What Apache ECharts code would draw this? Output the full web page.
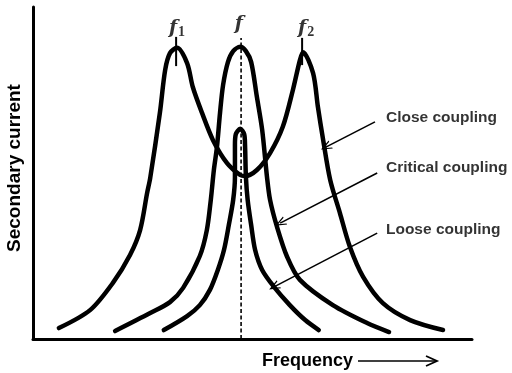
<!DOCTYPE html>
<html>
<head>
<meta charset="utf-8">
<script src="https://cdn.jsdelivr.net/npm/echarts@6/dist/echarts.min.js"></script>
<style>
  html, body { margin: 0; padding: 0; background: #fff; }
  #chart { width: 512px; height: 373px; }
</style>
</head>
<body>
<div id="chart"></div>
<script>
// Resonance curves of two coupled tuned circuits: secondary current vs frequency
// (frequency and current in arbitrary units, 0-100 on each axis)

const closeCoupling = [
  [5.9, 3.3], [13.0, 8.7], [18.2, 16.9], [22.1, 25.3], [24.4, 32.8], [26.0, 44.0],
  [26.7, 48.5], [28.9, 68.1], [30.1, 81.0], [31.2, 86.1], [32.8, 87.7], [35.1, 83.1],
  [36.4, 75.9], [38.5, 68.1], [41.0, 59.9], [44.2, 53.0], [47.2, 49.4], [48.3, 49.1],
  [51.0, 50.9], [54.0, 56.0], [56.9, 63.9], [59.2, 75.0], [60.8, 84.0], [61.5, 86.4],
  [63.8, 80.1], [64.9, 69.9], [66.1, 59.9], [67.7, 47.9], [69.9, 38.0], [72.2, 27.7],
  [75.2, 18.7], [79.7, 10.8], [85.9, 5.7], [93.4, 2.7]
];

const criticalCoupling = [
  [18.7, 2.4], [26.7, 7.8], [31.2, 11.1], [34.2, 15.4], [38.0, 25.0], [39.6, 32.8],
  [40.5, 41.9], [41.2, 50.9], [41.9, 57.8], [42.6, 68.1], [43.3, 76.5], [44.4, 83.4],
  [45.6, 86.7], [47.2, 88.0], [48.5, 86.7], [49.7, 83.4], [51.0, 72.9], [52.2, 63.0],
  [53.3, 48.8], [54.0, 41.9], [55.6, 33.7], [57.9, 24.7], [60.8, 17.8], [68.3, 10.2],
  [76.1, 4.8], [81.1, 2.1]
];

const looseCoupling = [
  [29.8, 2.7], [35.1, 6.9], [38.0, 10.2], [40.3, 14.8], [42.1, 20.8], [43.5, 26.8],
  [44.6, 34.3], [45.6, 41.9], [46.0, 48.8], [46.0, 58.4], [46.2, 61.7], [47.2, 63.3],
  [48.1, 61.7], [48.3, 58.4], [48.5, 48.8], [48.9, 41.9], [49.7, 34.3], [50.6, 26.8],
  [52.2, 20.8], [54.9, 15.7], [58.5, 10.2], [62.0, 5.7], [65.1, 2.7]
];

// resonant frequency f and the two peaks f1, f2 of the close-coupled curve
const centerFreq = 47.4;
const centerLine = [[centerFreq, 0], [centerFreq, 90.7]];
const f1Tick = [[32.6, 91.0], [32.6, 82.2]];
const f2Tick = [[61.3, 90.7], [61.3, 82.5]];
const peakLabels = [
  { name: '1', value: [32.8, 93.6] },
  { name: '',  value: [46.9, 95.0] },
  { name: '2', value: [62.2, 93.6] }
];

// curve captions and the arrows pointing from them to the curves
const captionNames = ['Close coupling', 'Critical coupling', 'Loose coupling'];
const captionPos = [[80.4, 66.6], [80.4, 51.5], [80.4, 32.8]];
const arrowFrom = [[77.9, 65.4], [78.4, 50.0], [78.4, 31.9]];
const arrowTo = [[66.7, 57.8], [56.3, 34.9], [54.9, 15.7]];

const ink = '#000';
const openArrow = 'path://M5,0 L10,11 L8.6,11 L5,3.2 L1.4,11 L0,11 Z';

const chart = echarts.init(document.getElementById('chart'), null, { renderer: 'canvas' });

const curveStyle = { color: ink, width: 4.5, cap: 'round', join: 'round' };

chart.setOption({
  animation: false,
  backgroundColor: '#fff',
  grid: { left: 33, right: 40, top: 7, bottom: 34, containLabel: false, outerBoundsMode: 'none' },
  xAxis: {
    type: 'value', min: 0, max: 100,
    axisLine: { show: true, lineStyle: { color: ink, width: 3 } },
    axisTick: { show: false }, axisLabel: { show: false }, splitLine: { show: false }
  },
  yAxis: {
    type: 'value', min: 0, max: 100,
    name: 'Secondary current', nameLocation: 'middle', nameGap: 9, nameRotate: 90,
    nameTextStyle: {
      color: ink, fontSize: 19, fontWeight: 'bold', fontFamily: 'Liberation Sans',
      padding: [0, 0, 0, 10]
    },
    axisLine: { show: true, lineStyle: { color: ink, width: 3 } },
    axisTick: { show: false }, axisLabel: { show: false }, splitLine: { show: false }
  },
  series: [
    {
      name: 'Close coupling', type: 'line', data: closeCoupling, smooth: 0.3,
      showSymbol: false, lineStyle: curveStyle, z: 3
    },
    {
      name: 'Critical coupling', type: 'line', data: criticalCoupling, smooth: 0.3,
      showSymbol: false, lineStyle: curveStyle, z: 3
    },
    {
      name: 'Loose coupling', type: 'line', data: looseCoupling, smooth: 0.3,
      showSymbol: false, lineStyle: curveStyle, z: 3
    },
    {
      name: 'f', type: 'line', data: centerLine, showSymbol: false,
      lineStyle: { color: ink, width: 1.6, type: [4, 2.5] }, z: 4
    },
    {
      name: 'f1', type: 'line', data: f1Tick, showSymbol: false,
      lineStyle: { color: ink, width: 2 }, z: 4
    },
    {
      name: 'f2', type: 'line', data: f2Tick, showSymbol: false,
      lineStyle: { color: ink, width: 2 }, z: 4
    },
    {
      name: 'peak labels', type: 'scatter', data: peakLabels, symbolSize: 0,
      label: {
        show: true, position: 'inside',
        formatter: p => '{i|f}' + (p.name ? '{s|' + p.name + '}' : ''),
        rich: {
          i: { fontFamily: 'DejaVu Serif', fontStyle: 'italic', fontWeight: 'bold', fontSize: 19, color: ink },
          s: { fontFamily: 'Liberation Serif', fontWeight: 'bold', fontSize: 14, color: ink, padding: [9, 0, 0, 1] }
        }
      },
      z: 5
    },
    {
      name: 'captions', type: 'scatter',
      data: captionNames.map((n, i) => ({ name: n, value: captionPos[i] })),
      symbolSize: 0,
      label: {
        show: true, position: 'right', distance: 0, formatter: '{b}',
        color: ink, fontSize: 15.5, fontWeight: 'bold', fontFamily: 'Liberation Sans'
      },
      markLine: {
        silent: true, symbol: ['none', openArrow], symbolSize: [9, 11],
        label: { show: false },
        lineStyle: { color: ink, width: 1.6, type: 'solid' },
        data: arrowFrom.map((a, i) => [{ coord: a }, { coord: arrowTo[i] }])
      },
      z: 5
    }
  ],
  graphic: [
    {
      type: 'text', left: 262, top: 352,
      style: { text: 'Frequency', fill: ink, fontSize: 18, fontWeight: 'bold', fontFamily: 'Liberation Sans' }
    },
    {
      type: 'line', shape: { x1: 358, y1: 361, x2: 436, y2: 361 },
      style: { stroke: ink, lineWidth: 1.6 }
    },
    {
      type: 'polyline', shape: { points: [[426, 356], [437, 361], [426, 366]] },
      style: { stroke: ink, lineWidth: 1.8, fill: null }
    }
  ]
});
</script>
</body>
</html>
